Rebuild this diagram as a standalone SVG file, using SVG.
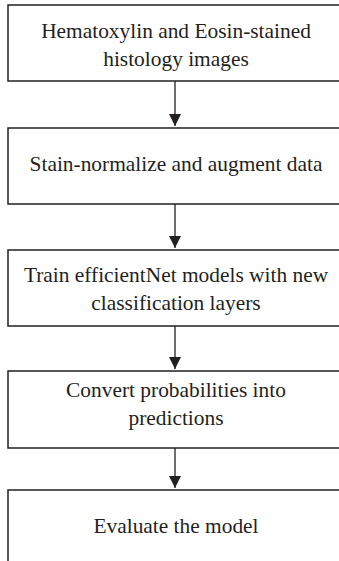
<svg xmlns="http://www.w3.org/2000/svg" width="339" height="561" viewBox="0 0 339 561">
<defs>
<style>
.box{fill:#fff;stroke:#231f20;stroke-width:1.5}
.t{font-family:"Liberation Serif","Times New Roman",serif;font-size:21.4px;fill:#231f20;text-anchor:middle}
.c{stroke:#231f20;stroke-width:1.3;fill:none}
</style>
<marker id="ah" markerWidth="12" markerHeight="12" viewBox="0 0 12 12" refX="12" refY="6" orient="auto" markerUnits="userSpaceOnUse">
<path d="M0,0 L12,6 L0,12 Z" fill="#231f20"/>
</marker>
</defs>
<rect width="339" height="561" fill="#fff"/>
<g id="n1"><rect class="box" x="8" y="5" width="345" height="76"/><text class="t" x="176" y="38">Hematoxylin and Eosin-stained</text><text class="t" x="176" y="66">histology images</text></g>
<g id="n2"><rect class="box" x="8" y="128" width="345" height="76"/><text class="t" x="176" y="171">Stain-normalize and augment data</text></g>
<g id="n3"><rect class="box" x="8" y="250" width="345" height="76"/><text class="t" x="176" y="282">Train efficientNet models with new</text><text class="t" x="176" y="310">classification layers</text></g>
<g id="n4"><rect class="box" x="8" y="371" width="345" height="77"/><text class="t" x="176" y="397">Convert probabilities into</text><text class="t" x="176" y="425">predictions</text></g>
<g id="n5"><rect class="box" x="8" y="490" width="345" height="90"/><text class="t" x="176" y="533">Evaluate the model</text></g>
<g id="connectors">
<line class="c" x1="175" y1="81" x2="175" y2="126" marker-end="url(#ah)"/>
<line class="c" x1="175" y1="204" x2="175" y2="248" marker-end="url(#ah)"/>
<line class="c" x1="175" y1="326" x2="175" y2="369" marker-end="url(#ah)"/>
<line class="c" x1="175" y1="448" x2="175" y2="488" marker-end="url(#ah)"/>
</g>
</svg>
